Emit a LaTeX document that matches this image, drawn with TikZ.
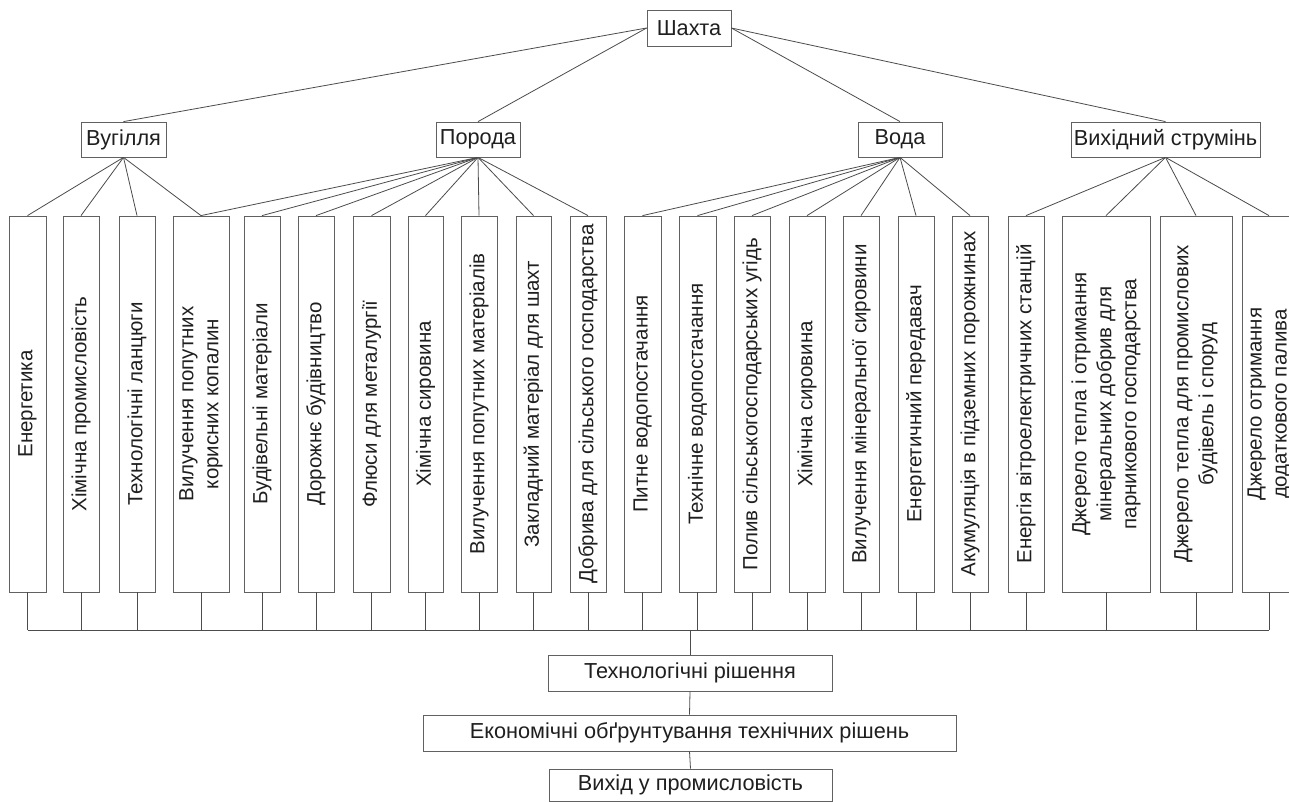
\documentclass[tikz,border=0pt]{standalone}
\usepackage{fontspec}
\setmainfont{Liberation Sans}
\newcommand\myfs{\fontsize{20.5}{25}\selectfont}
\newcommand\myhfs{\fontsize{21.7}{25}\selectfont}
\begin{document}
\begin{tikzpicture}[x=1pt,y=-1pt,
  box/.style={draw=black!62, line width=0.8pt, rectangle, inner sep=0pt, text=black!88, font=\myhfs, minimum height=36pt},
  col/.style={box, font=\myfs, rotate=90, minimum width=376pt, align=center},
  link/.style={draw=black!70, line width=0.8pt}]
\clip (0,0) rectangle (1289,802);
\fill[white] (0,0) rectangle (1289,802);
% top level
\node[box, minimum width=84pt] (shakhta) at (689,28) {Шахта};
\node[box, minimum width=85pt, minimum height=35pt] (vug) at (123.5,139.5) {Вугілля};
\node[box, minimum width=84pt, minimum height=35pt] (por) at (478,139.5) {Порода};
\node[box, minimum width=84pt, minimum height=35pt] (voda) at (900,139.5) {Вода};
\node[box, minimum width=189pt, minimum height=35pt] (vyh) at (1165.5,139.5) {Вихідний струмінь};
% columns
\node[col, minimum height=37pt] (c1) at (27.5,404) {Енергетика};
\node[col, minimum height=36pt] (c2) at (81,404) {Хімічна промисловість};
\node[col, minimum height=36pt] (c3) at (137,404) {Технологічні ланцюги};
\node[col, minimum height=56pt] (c4) at (201,404) {Вилучення попутних\\корисних копалин};
\node[col, minimum height=36pt] (c5) at (262,404) {Будівельні матеріали};
\node[col, minimum height=36pt] (c6) at (316,404) {Дорожнє будівництво};
\node[col, minimum height=37pt] (c7) at (371.5,404) {Флюси для металургії};
\node[col, minimum height=35pt] (c8) at (425.5,404) {Хімічна сировина};
\node[col, minimum height=36pt] (c9) at (479,404) {Вилучення попутних матеріалів};
\node[col, minimum height=35pt] (c10) at (533.5,404) {Закладний матеріал для шахт};
\node[col, minimum height=36pt] (c11) at (588,404) {Добрива для сільського господарства};
\node[col, minimum height=37pt] (c12) at (642.5,404) {Питне водопостачання};
\node[col, minimum height=37pt] (c13) at (697.5,404) {Технічне водопостачання};
\node[col, minimum height=36pt] (c14) at (752,404) {Полив сільськогосподарських угідь};
\node[col, minimum height=36pt] (c15) at (807,404) {Хімічна сировина};
\node[col, minimum height=36pt] (c16) at (861,404) {Вилучення мінеральної сировини};
\node[col, minimum height=36pt] (c17) at (916,404) {Енергетичний передавач};
\node[col, minimum height=36pt] (c18) at (970,404) {Акумуляція в підземних порожнинах};
\node[col, minimum height=36pt] (c19) at (1026,404) {Енергія вітроелектричних станцій};
\node[col, minimum height=88pt] (c20) at (1106,404) {Джерело тепла і отримання\\мінеральних добрив для\\парникового господарства};
\node[col, minimum height=72pt] (c21) at (1196,404) {Джерело тепла для промислових\\будівель і споруд};
\node[col, minimum height=54pt] (c22) at (1269,404) {Джерело отримання\\додаткового палива};
% bottom
\coordinate (bus) at (0,630);
\node[box, minimum width=284pt] (tech) at (690,673) {Технологічні рішення};
\node[box, minimum width=533pt] (econ) at (689.5,733) {Економічні обґрунтування технічних рішень};
\node[box, minimum width=283pt, minimum height=32pt] (vyhid) at (690.5,785) {Вихід у промисловість};
% connectors
\draw[link] (shakhta.west) -- (vug.north);
\draw[link] (shakhta.west) -- (por.north);
\draw[link] (shakhta.east) -- (voda.north);
\draw[link] (shakhta.east) -- (vyh.north);
\foreach \n in {c1,c2,c3,c4} \draw[link] (vug.south) -- (\n.east);
\foreach \n in {c4,c5,c6,c7,c8,c9,c10,c11} \draw[link] (por.south) -- (\n.east);
\foreach \n in {c12,c13,c14,c15,c16,c17,c18} \draw[link] (voda.south) -- (\n.east);
\foreach \n in {c19,c20,c21,c22} \draw[link] (vyh.south) -- (\n.east);
\foreach \n in {c1,c2,c3,c4,c5,c6,c7,c8,c9,c10,c11,c12,c13,c14,c15,c16,c17,c18,c19,c20,c21,c22}
  \draw[link] (\n.west) -- (\n.west |- bus);
\draw[link] (c1.west |- bus) -- (c22.west |- bus);
\draw[link] (tech.north |- bus) -- (tech.north);
\draw[link] (tech.south) -- (econ.north);
\draw[link] (econ.south) -- (vyhid.north);
\end{tikzpicture}
\end{document}
